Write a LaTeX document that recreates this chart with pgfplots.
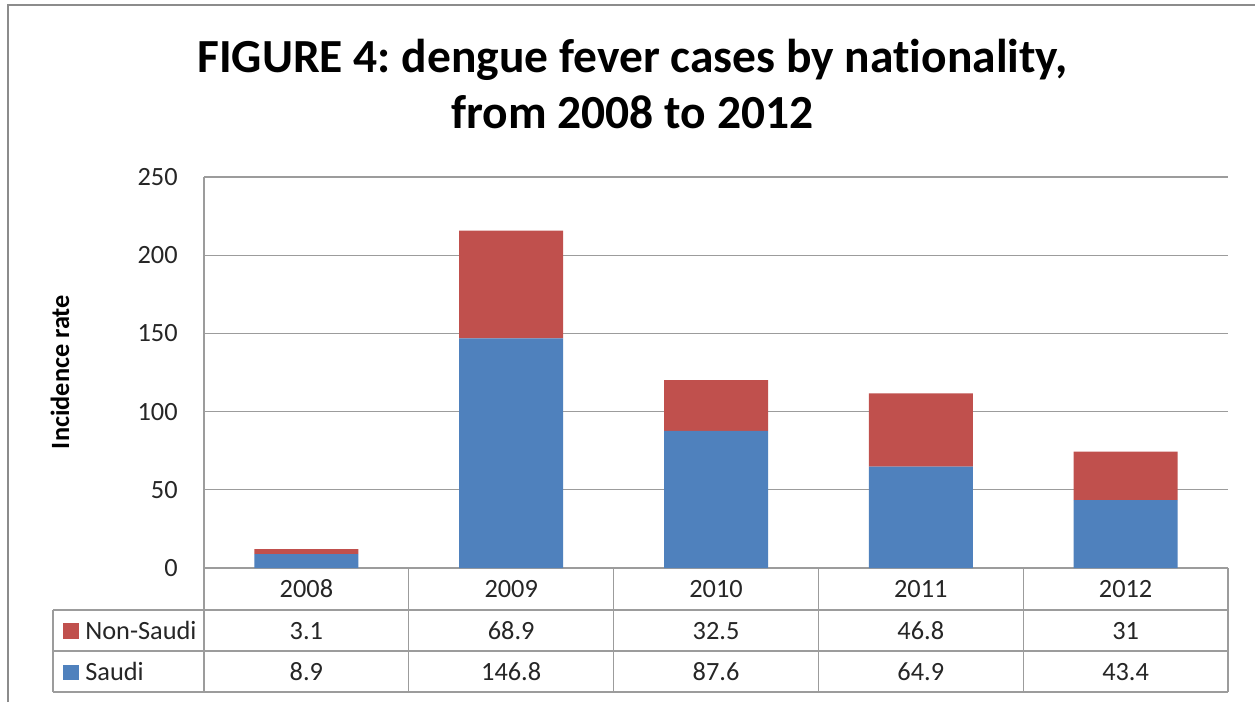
\documentclass[border=0pt]{standalone}
\usepackage{pgfplots}
\pgfplotsset{compat=1.18}
\usepackage{fontspec}
\setmainfont{Carlito}[Ligatures={TeX,NoCommon}]
\frenchspacing
\definecolor{saudi}{HTML}{4F81BD}
\definecolor{nonsaudi}{HTML}{C0504D}
\definecolor{gridc}{HTML}{9C9C9C}
\definecolor{framec}{HTML}{8C8C8C}
\newcommand{\fs}{\fontsize{15.8}{19}\selectfont}
\begin{document}
\begin{tikzpicture}[x=0.6pt,y=-0.6pt]
\useasboundingbox (0,0) rectangle (1255,702);
\fill[white] (0,0) rectangle (1255,702);
\draw[framec, line width=1.2pt] (8,702) -- (8,5) -- (1255,5);
\node[font=\bfseries\fontsize{28.5}{34}\selectfont, anchor=base, inner sep=0pt] at (632.5,72) {FIGURE 4: dengue fever cases by nationality,};
\node[font=\bfseries\fontsize{28.5}{34}\selectfont, anchor=base, inner sep=0pt] at (632.5,128) {from 2008 to 2012};
\begin{axis}[at={(122.4pt,-340.8pt)}, anchor=south west, scale only axis,
  width=614.4pt, height=234.6pt,
  xmin=-0.5, xmax=4.5, ymin=0, ymax=250,
  ybar stacked, bar width=62.4pt,
  ytick={0,50,...,250}, xtick={0,1,2,3,4},
  xticklabels={2008,2009,2010,2011,2012},
  ymajorgrids, grid style={gridc, line width=0.8pt},
  axis line style={draw=none}, major tick length=0pt,
  tick label style={font=\fs, text=black!85},
  /pgf/number format/assume math mode=true,
  yticklabel style={anchor=east, inner sep=0pt, xshift=-15.6pt},
  xticklabel style={anchor=base, inner sep=0pt, yshift=-17.4pt},
]
\addplot[fill=saudi, draw=none] coordinates {(0,8.9) (1,146.8) (2,87.6) (3,64.9) (4,43.4)};
\addplot[fill=nonsaudi, draw=none] coordinates {(0,3.1) (1,68.9) (2,32.5) (3,46.8) (4,31)};
\end{axis}
\draw[gridc, line width=0.8pt] (53,610) -- (1228,610) (53,651) -- (1228,651) (53,692) -- (1228,692) (53,610) -- (53,692);
\draw[gridc, line width=0.8pt] (204,177) -- (204,692);
\foreach \x in {408.8,613.6,818.4,1023.2,1228} \draw[gridc, line width=0.8pt] (\x,568) -- (\x,692);
\node[rotate=90, font=\bfseries\fs] at (60,372) {Incidence rate};
\fill[nonsaudi] (63,623) rectangle (79,639);
\fill[saudi] (63,665) rectangle (79,680);
\node[font=\fs, text=black!85, anchor=base west, inner sep=0pt] at (85,639) {Non-Saudi};
\node[font=\fs, text=black!85, anchor=base west, inner sep=0pt] at (85,680) {Saudi};
\foreach \x/\a/\b in {306.4/3.1/8.9, 511.2/68.9/146.8, 716/32.5/87.6, 920.8/46.8/64.9, 1125.6/31/43.4} {
  \node[font=\fs, text=black!85, anchor=base, inner sep=0pt] at (\x,639) {\a};
  \node[font=\fs, text=black!85, anchor=base, inner sep=0pt] at (\x,680) {\b};
}
\end{tikzpicture}
\end{document}
